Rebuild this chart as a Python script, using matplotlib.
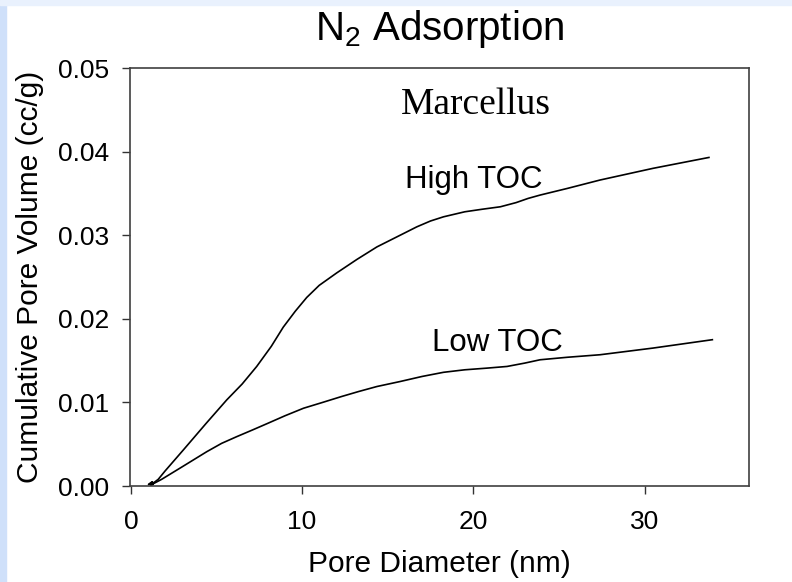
import matplotlib
matplotlib.use("Agg")
import matplotlib.pyplot as plt
from matplotlib.patches import Rectangle

# pore diameter (nm) vs cumulative pore volume (cc/g)
high_x = [1.05, 1.25, 1.3, 1.15, 1.6, 2.0, 3.06, 4.4, 5.6, 6.5, 7.35, 8.2, 8.9, 9.6,
          10.27, 11.0, 12.03, 13.2, 14.37, 15.73, 16.7, 17.5, 18.26, 19.5, 20.5, 21.58,
          22.5, 23.2, 23.9, 25.5, 27.4, 30.5, 33.76]
high_y = [0.0002, 0.0005, 0.0002, 0.0001, 0.0008, 0.0018, 0.0043, 0.0075, 0.0103, 0.0122,
          0.0143, 0.0167, 0.0190, 0.0209, 0.02255, 0.0240, 0.0255, 0.0271, 0.0286,
          0.0300, 0.0310, 0.0317, 0.0322, 0.0328, 0.0331, 0.0334, 0.0339, 0.0344,
          0.0348, 0.0356, 0.0366, 0.0380, 0.0393]
low_x = [1.05, 1.25, 1.3, 1.15, 1.8, 3.0, 4.43, 5.3, 6.18, 7.1, 8.0, 9.0, 10.08, 11.2,
         12.3, 13.3, 14.37, 15.73, 17.0, 18.26, 19.5, 20.8, 21.97, 23.0, 23.9, 25.5,
         27.4, 30.5, 33.96]
low_y = [0.0002, 0.0005, 0.0002, 0.0001, 0.0008, 0.0023, 0.0041, 0.0051, 0.0059, 0.0067,
         0.0075, 0.0084, 0.0093, 0.0100, 0.0107, 0.0113, 0.0119, 0.0125, 0.0131, 0.0136,
         0.0139, 0.0141, 0.0143, 0.0147, 0.0151, 0.0154, 0.0157, 0.0165, 0.0175]

x_ticks = [0, 10, 20, 30]
y_ticks = [0.00, 0.01, 0.02, 0.03, 0.04, 0.05]
y_tick_labels = ["0.00", "0.01", "0.02", "0.03", "0.04", "0.05"]

plt.rcParams["font.family"] = ["Liberation Sans", "DejaVu Sans"]
plt.rcParams["mathtext.fontset"] = "custom"
plt.rcParams["mathtext.rm"] = "Liberation Sans"

fig = plt.figure(figsize=(7.92, 5.82), dpi=100)
# light blue frame at top and left
fig.patches.append(Rectangle((0, 0), 6 / 792, 1, transform=fig.transFigure,
                             color="#cfe0fa", zorder=0))
fig.patches.append(Rectangle((0, 1 - 5 / 582), 1, 5 / 582, transform=fig.transFigure,
                             color="#e9f1fd", zorder=0))

ax = fig.add_axes([130 / 792, 1 - 486 / 582, 619 / 792, 418 / 582])
ax.plot(high_x, high_y, color="black", lw=1.2)
ax.plot(low_x, low_y, color="black", lw=1.2)

ax.set_xlim(-0.05, 36.1)
ax.set_ylim(0, 0.05)
ax.set_xticks(x_ticks)
ax.set_yticks(y_ticks)
ax.set_yticklabels(y_tick_labels)
ax.tick_params(direction="out", length=6, width=1, labelsize=19, color="#333333")
ax.tick_params(axis="y", pad=9)
ax.tick_params(axis="x", pad=11)
ax.tick_params(top=False, right=False)
for s in ax.spines.values():
    s.set_color("#404040")
    s.set_linewidth(1.2)

ax.set_title(r"$\mathregular{N_2}$ Adsorption", fontsize=29, pad=20)
ax.set_xlabel("Pore Diameter (nm)", fontsize=21.5, labelpad=12)
ax.set_ylabel("Cumulative Pore Volume (cc/g)", fontsize=21.5, labelpad=10)

ax.text(15.75, 0.0445, "Marcellus", family=["Liberation Serif", "DejaVu Serif"],
        fontsize=27, va="baseline")
ax.text(16.0, 0.0356, "High TOC", fontsize=22.5, va="baseline")
ax.text(17.6, 0.0162, "Low TOC", fontsize=22.5, va="baseline")

fig.savefig("out.png", dpi=100)
